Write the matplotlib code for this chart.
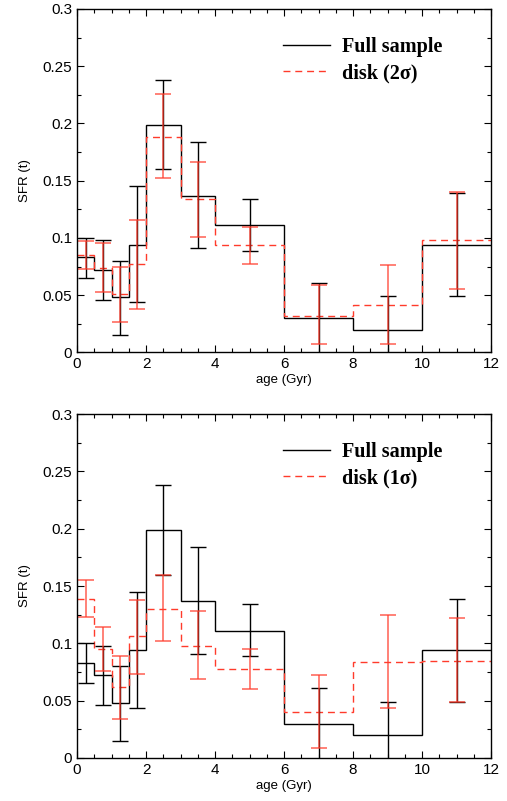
import numpy as np
import matplotlib
matplotlib.use('Agg')
import matplotlib.pyplot as plt
from matplotlib.ticker import MultipleLocator

# Age bins (Gyr)
bin_edges = [0, 0.5, 1, 1.5, 2, 3, 4, 6, 8, 10, 12]
bin_centers = [0.25, 0.75, 1.25, 1.75, 2.5, 3.5, 5, 7, 9, 11]

# Full sample (same in both panels)
full_sfr = [0.083, 0.072, 0.048, 0.094, 0.199, 0.137, 0.111, 0.030, 0.020, 0.094]
full_lo = [0.065, 0.046, 0.015, 0.044, 0.160, 0.091, 0.089, -0.01, -0.01, 0.049]
full_hi = [0.100, 0.098, 0.080, 0.145, 0.238, 0.184, 0.134, 0.061, 0.049, 0.139]

# disk, 2 sigma
disk2_sfr = [0.085, 0.074, 0.051, 0.077, 0.188, 0.134, 0.094, 0.032, 0.041, 0.098]
disk2_lo = [0.073, 0.053, 0.027, 0.038, 0.152, 0.101, 0.077, 0.007, 0.007, 0.055]
disk2_hi = [0.097, 0.096, 0.075, 0.116, 0.226, 0.166, 0.110, 0.059, 0.076, 0.140]

# disk, 1 sigma
disk1_sfr = [0.139, 0.095, 0.062, 0.106, 0.130, 0.098, 0.078, 0.040, 0.084, 0.085]
disk1_lo = [0.123, 0.076, 0.034, 0.073, 0.102, 0.069, 0.060, 0.009, 0.044, 0.049]
disk1_hi = [0.155, 0.114, 0.089, 0.138, 0.160, 0.128, 0.095, 0.072, 0.125, 0.122]

RED = '#ff3b2b'
tick_font = 'Liberation Sans'
legend_font = {'family': 'Liberation Serif', 'weight': 'bold', 'size': 14.5}


def draw_panel(ax, sfr, lo, hi, label):
    # Full sample: black step + error bars
    ax.stairs(full_sfr, bin_edges, baseline=None, color='black', lw=1.0,
              label='Full sample')
    yerr = [np.array(full_sfr) - np.array(full_lo), np.array(full_hi) - np.array(full_sfr)]
    ax.errorbar(bin_centers, full_sfr, yerr=yerr, fmt='none', ecolor='black',
                elinewidth=1.0, capsize=6, capthick=1.0)

    # disk: red dashed step + error bars
    ax.stairs(sfr, bin_edges, baseline=None, color=RED, lw=1.0,
              linestyle=(0, (5, 3.5)), label=label)
    yerr = [np.array(sfr) - np.array(lo), np.array(hi) - np.array(sfr)]
    ax.errorbar(bin_centers, sfr, yerr=yerr, fmt='none', ecolor=RED, alpha=0.75,
                elinewidth=1.2, capsize=6, capthick=1.2)

    ax.set_xlim(0, 12)
    ax.set_ylim(0, 0.3)
    ax.xaxis.set_major_locator(MultipleLocator(2))
    ax.xaxis.set_minor_locator(MultipleLocator(0.5))
    ax.yaxis.set_minor_locator(MultipleLocator(0.025))
    ax.set_yticks([0, 0.05, 0.1, 0.15, 0.2, 0.25, 0.3])
    ax.set_yticklabels(['0', '0.05', '0.1', '0.15', '0.2', '0.25', '0.3'])
    ax.tick_params(which='both', direction='in', top=True, right=True,
                   labelsize=11, width=0.8)
    ax.tick_params(which='major', length=5)
    ax.tick_params(which='minor', length=3)
    for t in ax.get_xticklabels() + ax.get_yticklabels():
        t.set_fontfamily(tick_font)
    for s in ax.spines.values():
        s.set_linewidth(1.0)
    ax.set_xlabel('age (Gyr)', fontsize=9.5, family=tick_font, labelpad=2)
    ax.set_ylabel('SFR (t)', fontsize=9.5, family=tick_font, labelpad=8)

    ax.legend(loc='upper left', bbox_to_anchor=(0.4976, 0.918), frameon=False,
              prop=legend_font, handlelength=2.35, handletextpad=0.6,
              labelspacing=0.3, borderaxespad=0, borderpad=0)


fig = plt.figure(figsize=(5.07, 8.01), dpi=100)
ax1 = fig.add_axes([0.1519, 0.5600, 0.8166, 0.4288])
ax2 = fig.add_axes([0.1519, 0.0537, 0.8166, 0.4294])

draw_panel(ax1, disk2_sfr, disk2_lo, disk2_hi, 'disk (2σ)')
draw_panel(ax2, disk1_sfr, disk1_lo, disk1_hi, 'disk (1σ)')

fig.savefig('out.png', dpi=100)
plt.close(fig)
